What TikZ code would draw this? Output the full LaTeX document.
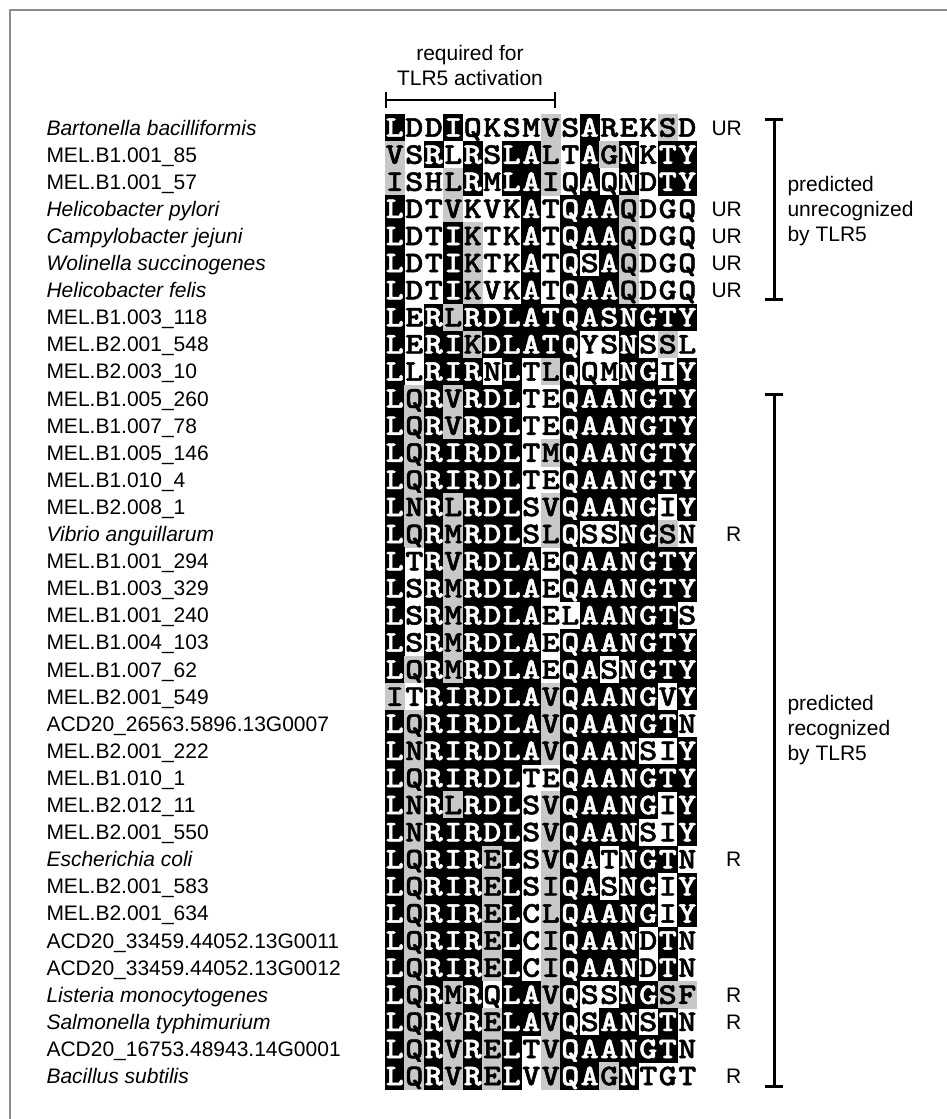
\documentclass[tikz,border=0pt]{standalone}
\usepackage{fontspec}
\setmainfont{Liberation Sans}
\newfontfamily\cellfont{lmmonolt10-bold.otf}[FakeBold=1.5]
\usepackage{graphicx}
\definecolor{cellgray}{RGB}{200,200,200}
\definecolor{framegray}{RGB}{140,140,140}
\tikzset{
  cellbase/.style={minimum width=19.9pt, minimum height=27.5pt, inner sep=0pt, outer sep=0pt,
    font=\cellfont\fontsize{30}{30}\selectfont, text height=18.3pt, text depth=0pt},
  cellb/.style={cellbase, fill=black, text=white},
  cellg/.style={cellbase, fill=cellgray, text=black},
  cellw/.style={cellbase, text=black},
  lab/.style={anchor=base west, inner sep=0pt, outer sep=0pt},
  labfont/.style={font=\fontsize{21}{25}\selectfont},
  brk/.style={line width=3pt, black},
}
\newcommand\cellchar[1]{\scalebox{1.15}[1]{#1}}
\makeatletter
\newcommand\seqrow[2]{\def\al@r{#1}\def\al@c{0}\al@proc#2\relax\relax}
\def\al@proc#1#2{%
  \ifx#1\relax\else
    \pgfmathtruncatemacro\al@c{\al@c+1}%
    \al@cell{#1}{#2}%
    \expandafter\al@proc
  \fi}
\def\al@cell#1#2{%
  \node[cell#2] (c-\al@r-\al@c) at ({385+(\al@c-0.5)*19.5},{114+(\al@r-0.5)*27.1}) {\cellchar{#1}};}
\makeatother
\begin{document}
\begin{tikzpicture}[x=1pt,y=-1pt]
\useasboundingbox (0,0) rectangle (947,1119);
\fill[white] (0,0) rectangle (947,1119);
\draw[framegray, line width=2pt] (10,1119) -- (10,10) -- (947,10);

% header
\node[labfont, anchor=base, inner sep=0pt] (h1) at (470,60) {required for};
\node[labfont, anchor=base, inner sep=0pt] (h2) at (470,85.5) {TLR5 activation};
\coordinate (hl) at (386,100);
\coordinate (hr) at (555,100);
\draw[line width=2.7pt] (hl) -- (hr);
\draw[line width=2.7pt] ([yshift=8pt]hl) -- ([yshift=-8pt]hl);
\draw[line width=2.7pt] ([yshift=8pt]hr) -- ([yshift=-8pt]hr);

% alignment
\seqrow{1}{Lb Dw Dw Ib Qw Kw Sw Mw Vg Sw Ab Rw Ew Kw Sg Dw}
\seqrow{2}{Vg Sw Rb Lw Rb Sw Lb Ab Lg Tw Ab Gg Nb Kw Tb Yb}
\seqrow{3}{Ig Sw Hw Lg Rb Mw Lb Ab Ig Qw Ab Qw Nb Dw Tb Yb}
\seqrow{4}{Lb Dw Tw Vg Kw Vw Kw Ab Tw Qb Ab Ab Qg Dw Gw Qw}
\seqrow{5}{Lb Dw Tw Ib Kg Tw Kw Ab Tw Qb Ab Ab Qg Dw Gw Qw}
\seqrow{6}{Lb Dw Tw Ib Kg Tw Kw Ab Tw Qb Sw Ab Qg Dw Gw Qw}
\seqrow{7}{Lb Dw Tw Ib Kg Vw Kw Ab Tw Qb Ab Ab Qg Dw Gw Qw}
\seqrow{8}{Lb Ew Rb Lg Rb Db Lb Ab Tb Qb Ab Sb Nb Gb Tb Yb}
\seqrow{9}{Lb Ew Rb Ib Kg Db Lb Ab Tb Qb Yw Sw Nb Sw Sg Lw}
\seqrow{10}{Lb Lw Rb Ib Rb Nw Lb Tw Lg Qb Qw Mw Nb Gb Iw Yb}
\seqrow{11}{Lb Qg Rb Vg Rb Db Lb Tw Ew Qb Ab Ab Nb Gb Tb Yb}
\seqrow{12}{Lb Qg Rb Vg Rb Db Lb Tw Ew Qb Ab Ab Nb Gb Tb Yb}
\seqrow{13}{Lb Qg Rb Ib Rb Db Lb Tw Mg Qb Ab Ab Nb Gb Tb Yb}
\seqrow{14}{Lb Qg Rb Ib Rb Db Lb Tw Ew Qb Ab Ab Nb Gb Tb Yb}
\seqrow{15}{Lb Ng Rb Lg Rb Db Lb Sw Vg Qb Ab Ab Nb Gb Iw Yb}
\seqrow{16}{Lb Qg Rb Mg Rb Db Lb Sw Lg Qb Sw Sw Nb Gb Sg Nw}
\seqrow{17}{Lb Tw Rb Vg Rb Db Lb Ab Ew Qb Ab Ab Nb Gb Tb Yb}
\seqrow{18}{Lb Sw Rb Mg Rb Db Lb Ab Ew Qb Ab Ab Nb Gb Tb Yb}
\seqrow{19}{Lb Sw Rb Mg Rb Db Lb Ab Ew Lw Ab Ab Nb Gb Tb Sw}
\seqrow{20}{Lb Sw Rb Mg Rb Db Lb Ab Ew Qb Ab Ab Nb Gb Tb Yb}
\seqrow{21}{Lb Qg Rb Mg Rb Db Lb Ab Ew Qb Ab Sw Nb Gb Tb Yb}
\seqrow{22}{Ig Tw Rb Ib Rb Db Lb Ab Vg Qb Ab Ab Nb Gb Vw Yb}
\seqrow{23}{Lb Qg Rb Ib Rb Db Lb Ab Vg Qb Ab Ab Nb Gb Tb Nw}
\seqrow{24}{Lb Ng Rb Ib Rb Db Lb Ab Vg Qb Ab Ab Nb Sw Iw Yb}
\seqrow{25}{Lb Qg Rb Ib Rb Db Lb Tw Ew Qb Ab Ab Nb Gb Tb Yb}
\seqrow{26}{Lb Ng Rb Lg Rb Db Lb Sw Vg Qb Ab Ab Nb Gb Iw Yb}
\seqrow{27}{Lb Ng Rb Ib Rb Db Lb Sw Vg Qb Ab Ab Nb Sw Iw Yb}
\seqrow{28}{Lb Qg Rb Ib Rb Eg Lb Sw Vg Qb Ab Tw Nb Gb Tb Nw}
\seqrow{29}{Lb Qg Rb Ib Rb Eg Lb Sw Ig Qb Ab Sw Nb Gb Iw Yb}
\seqrow{30}{Lb Qg Rb Ib Rb Eg Lb Cw Lg Qb Ab Ab Nb Gb Iw Yb}
\seqrow{31}{Lb Qg Rb Ib Rb Eg Lb Cw Ig Qb Ab Ab Nb Dw Tb Nw}
\seqrow{32}{Lb Qg Rb Ib Rb Eg Lb Cw Ig Qb Ab Ab Nb Dw Tb Nw}
\seqrow{33}{Lb Qg Rb Mg Rb Qw Lb Ab Vg Qb Sw Sw Nb Gb Sg Fg}
\seqrow{34}{Lb Qg Rb Vg Rb Eg Lb Ab Vg Qb Sw Ab Nb Sw Tb Nw}
\seqrow{35}{Lb Qg Rb Vg Rb Eg Lb Tw Vg Qb Ab Ab Nb Gb Tb Nw}
\seqrow{36}{Lb Qg Rb Vg Rb Eg Lb Vw Vg Qb Ab Gg Nb Tw Gw Tw}

% row labels
\foreach \i/\n/\s in {
 1/Bartonella bacilliformis/\itshape,
 2/MEL.B1.001\_85/\upshape,
 3/MEL.B1.001\_57/\upshape,
 4/Helicobacter pylori/\itshape,
 5/Campylobacter jejuni/\itshape,
 6/Wolinella succinogenes/\itshape,
 7/Helicobacter felis/\itshape,
 8/MEL.B1.003\_118/\upshape,
 9/MEL.B2.001\_548/\upshape,
 10/MEL.B2.003\_10/\upshape,
 11/MEL.B1.005\_260/\upshape,
 12/MEL.B1.007\_78/\upshape,
 13/MEL.B1.005\_146/\upshape,
 14/MEL.B1.010\_4/\upshape,
 15/MEL.B2.008\_1/\upshape,
 16/Vibrio anguillarum/\itshape,
 17/MEL.B1.001\_294/\upshape,
 18/MEL.B1.003\_329/\upshape,
 19/MEL.B1.001\_240/\upshape,
 20/MEL.B1.004\_103/\upshape,
 21/MEL.B1.007\_62/\upshape,
 22/MEL.B2.001\_549/\upshape,
 23/ACD20\_26563.5896.13G0007/\upshape,
 24/MEL.B2.001\_222/\upshape,
 25/MEL.B1.010\_1/\upshape,
 26/MEL.B2.012\_11/\upshape,
 27/MEL.B2.001\_550/\upshape,
 28/Escherichia coli/\itshape,
 29/MEL.B2.001\_583/\upshape,
 30/MEL.B2.001\_634/\upshape,
 31/ACD20\_33459.44052.13G0011/\upshape,
 32/ACD20\_33459.44052.13G0012/\upshape,
 33/Listeria monocytogenes/\itshape,
 34/Salmonella typhimurium/\itshape,
 35/ACD20\_16753.48943.14G0001/\upshape,
 36/Bacillus subtilis/\itshape}
 {\node[lab, font=\fontsize{21}{25}\selectfont\s] (l\i) at (46.5,{114+(\i-0.5)*27.1+7.5}) {\n};}

% recognition marks
\foreach \i in {1,4,5,6,7}
 {\node[lab, labfont] (ur\i) at (711.5,{114+(\i-0.5)*27.1+7.5}) {UR};}
\foreach \i in {16,28,33,34,36}
 {\node[lab, labfont] (r\i) at (726,{114+(\i-0.5)*27.1+7.5}) {R};}

% brackets
\coordinate (b1t) at (774,119);
\coordinate (b1b) at (774,299);
\draw[brk] (b1t) -- (b1b);
\draw[brk] ([xshift=-9pt]b1t) -- ([xshift=9pt]b1t);
\draw[brk] ([xshift=-9pt]b1b) -- ([xshift=9pt]b1b);
\node[lab, labfont] (t1a) at (787.5,191) {predicted};
\node[lab, labfont] (t1b) at (787.5,216) {unrecognized};
\node[lab, labfont] (t1c) at (787.5,241) {by TLR5};

\coordinate (b2t) at (774,394);
\coordinate (b2b) at (774,1086);
\draw[brk] (b2t) -- (b2b);
\draw[brk] ([xshift=-9pt]b2t) -- ([xshift=9pt]b2t);
\draw[brk] ([xshift=-9pt]b2b) -- ([xshift=9pt]b2b);
\node[lab, labfont] (t2a) at (787.5,710) {predicted};
\node[lab, labfont] (t2b) at (787.5,735) {recognized};
\node[lab, labfont] (t2c) at (787.5,760) {by TLR5};
\end{tikzpicture}
\end{document}
